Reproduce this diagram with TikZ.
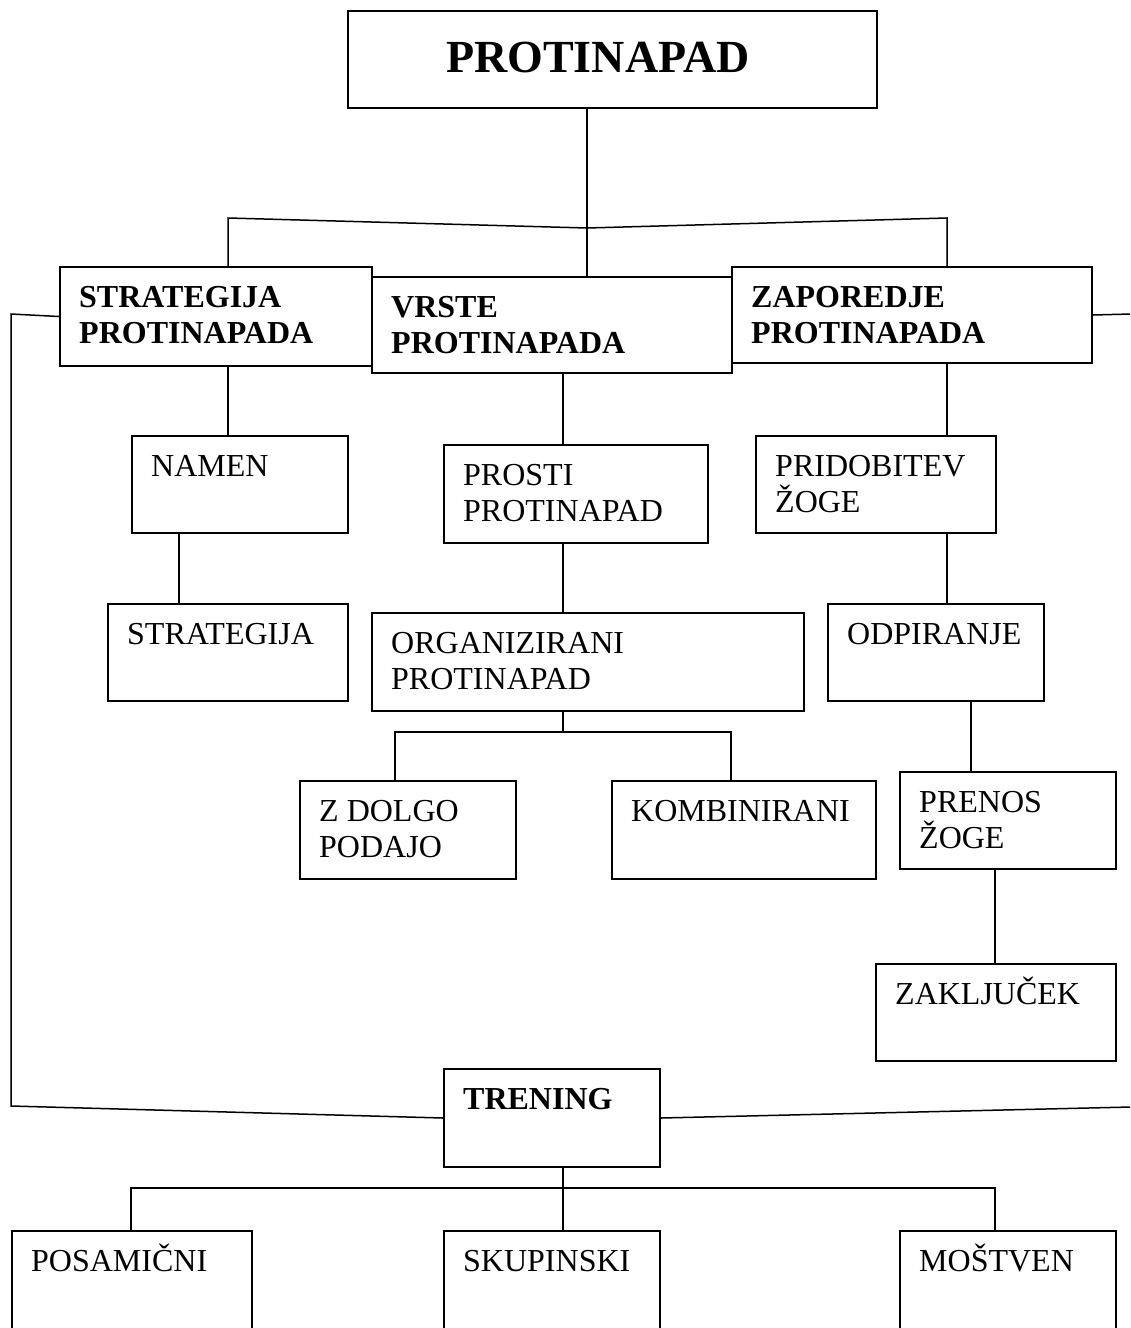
\documentclass[tikz,border=0pt]{standalone}
\usepackage{fontspec}
\setmainfont{Liberation Serif}
\usetikzlibrary{positioning}

\begin{document}
\begin{tikzpicture}[x=1pt, y=-1pt,
    box/.style={draw, line width=2pt, anchor=north west, inner sep=0pt},
    txt/.style={anchor=north west, inner xsep=20pt, inner ysep=20pt, align=left,
                font=\fontsize{32}{36}\selectfont},
    btxt/.style={txt, font=\bfseries\fontsize{32}{36}\selectfont},
    link/.style={line width=1.5pt}]
    \clip (0,0) rectangle (1130,1328);

    % naslov
    \node[box, minimum width=529pt, minimum height=97pt,
          label={[txt, font=\bfseries\fontsize{46}{50}\selectfont, inner xsep=99pt, inner ysep=32pt]north west:PROTINAPAD}]
          (title) at (347,10) {};

    % prva raven
    \node[box, minimum width=312pt, minimum height=99pt,
          label={[btxt]north west:{STRATEGIJA\\PROTINAPADA}}] (strat) at (59,266) {};
    \node[box, minimum width=360pt, minimum height=96pt,
          label={[btxt]north west:{VRSTE\\PROTINAPADA}}] (vrste) at (371,276) {};
    \node[box, minimum width=360pt, minimum height=96pt,
          label={[btxt]north west:{ZAPOREDJE\\PROTINAPADA}}] (zap) at (731,266) {};

    % strategija
    \node[box, minimum width=216pt, minimum height=97pt,
          label={[txt]north west:NAMEN}] (namen) at (131,435) {};
    \node[box, minimum width=240pt, minimum height=97pt,
          label={[txt]north west:STRATEGIJA}] (strategija) at (107,603) {};

    % vrste
    \node[box, minimum width=264pt, minimum height=98pt,
          label={[txt]north west:{PROSTI\\PROTINAPAD}}] (prosti) at (443,444) {};
    \node[box, minimum width=432pt, minimum height=98pt,
          label={[txt]north west:{ORGANIZIRANI\\PROTINAPAD}}] (organiz) at (371,612) {};
    \node[box, minimum width=216pt, minimum height=98pt,
          label={[txt]north west:{Z DOLGO\\PODAJO}}] (zdolgo) at (299,780) {};
    \node[box, minimum width=264pt, minimum height=98pt,
          label={[txt]north west:KOMBINIRANI}] (kombin) at (611,780) {};

    % zaporedje
    \node[box, minimum width=240pt, minimum height=97pt,
          label={[txt]north west:{PRIDOBITEV\\ŽOGE}}] (prid) at (755,435) {};
    \node[box, minimum width=216pt, minimum height=97pt,
          label={[txt]north west:ODPIRANJE}] (odp) at (827,603) {};
    \node[box, minimum width=216pt, minimum height=97pt,
          label={[txt]north west:{PRENOS\\ŽOGE}}] (prenos) at (899,771) {};
    \node[box, minimum width=240pt, minimum height=97pt,
          label={[txt, text height=21.5pt]north west:ZAKLJUČEK}] (zak) at (875,963) {};

    % trening
    \node[box, minimum width=216pt, minimum height=98pt,
          label={[btxt]north west:TRENING}] (trening) at (443,1068) {};
    \node[box, minimum width=240pt, minimum height=150pt,
          label={[txt, text height=21.5pt]north west:POSAMIČNI}] (posam) at (11,1230) {};
    \node[box, minimum width=216pt, minimum height=150pt,
          label={[txt]north west:SKUPINSKI}] (skup) at (443,1230) {};
    \node[box, minimum width=216pt, minimum height=150pt,
          label={[txt, text height=21.5pt]north west:MOŠTVEN}] (most) at (899,1230) {};

    % povezave
    \coordinate (jt) at (587,228);
    \draw[link] (title.south -| jt) -- (vrste.north -| jt);
    \draw[link] (strat.north -| 228,0) -- (228,218) -- (jt) -- (947,218) -- (zap.north -| 947,0);
    \draw[link] (strat.south -| 228,0) -- (namen.north -| 228,0);
    \draw[link] (namen.south -| 179,0) -- (strategija.north -| 179,0);
    \draw[link] (vrste.south -| 563,0) -- (prosti.north -| 563,0);
    \draw[link] (prosti.south -| 563,0) -- (organiz.north -| 563,0);
    \draw[link] (organiz.south -| 563,0) -- (563,732);
    \draw[link] (zdolgo.north -| 395,0) -- (395,732) -- (731,732) -- (kombin.north -| 731,0);
    \draw[link] (zap.south -| 947,0) -- (prid.north -| 947,0);
    \draw[link] (prid.south -| 947,0) -- (odp.north -| 947,0);
    \draw[link] (odp.south -| 971,0) -- (prenos.north -| 971,0);
    \draw[link] (prenos.south -| 995,0) -- (zak.north -| 995,0);

    % trening povezave
    \coordinate (redge1) at (1131,314);
    \coordinate (redge2) at (1131,1107);
    \draw[link] (strat.west) -- (11,314) -- (11,1106) -- (trening.west);
    \draw[link] (zap.east) -- (redge1);
    \draw[link] (trening.east) -- (redge2);
    \draw[link] (trening.south -| 563,0) -- (skup.north -| 563,0);
    \draw[link] (posam.north -| 131,0) -- (131,1188) -- (995,1188) -- (most.north -| 995,0);
\end{tikzpicture}
\end{document}
